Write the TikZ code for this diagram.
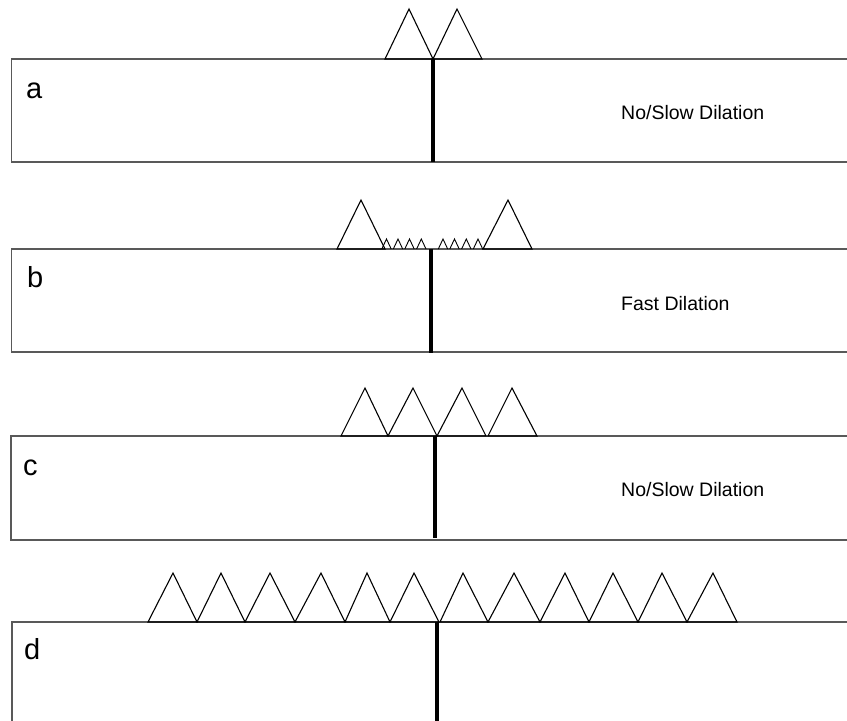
\documentclass[tikz,border=0pt]{standalone}
\usepackage{fontspec}
\setmainfont{Liberation Sans}
\tikzset{
  slab/.style={draw=black!65, line width=1.3pt},
  tooth/.style={draw=black, line width=1.1pt, line join=miter},
  crack/.style={draw=black, line width=3.4pt},
  panellabel/.style={anchor=base west, inner sep=0pt, font=\fontsize{29}{29}\selectfont},
  ratelabel/.style={anchor=base west, inner sep=0pt, font=\fontsize{19.5}{19.5}\selectfont}
}
\begin{document}
\begin{tikzpicture}[x=1pt, y=-1pt]
        \useasboundingbox (0,0) rectangle (847,721);

        % panel a
        \draw[slab] (847,59) -- (11.5,59) -- (11.5,162) -- (847,162);
        \foreach \l/\m/\r in {385/409/433, 433/457/482}
          \draw[tooth] (\l,59) -- (\m,9) -- (\r,59) -- cycle;
        \draw[crack] (433,59) -- (433,162);
        \node[panellabel] (lblA) at (26,98) {a};
        \node[ratelabel] (rateA) at (621,119) {No/Slow Dilation};

        % panel b
        \draw[slab] (847,249) -- (11.5,249) -- (11.5,352) -- (847,352);
        \foreach \l/\m/\r in {337/361/385, 483/508/532}
          \draw[tooth] (\l,249) -- (\m,200) -- (\r,249) -- cycle;
        \foreach \m in {386.5, 398, 409.5, 421.3, 443, 454.5, 466.3, 478}
          \draw[tooth, line width=0.9pt] (\m-4.7,249) -- (\m,239) -- (\m+4.7,249);
        \draw[crack] (431,249) -- (431,353);
        \node[panellabel] (lblB) at (27,287) {b};
        \node[ratelabel] (rateB) at (621,310) {Fast Dilation};

        % panel c
        \draw[slab] (847,436) -- (11,436) -- (11,540) -- (847,540);
        \foreach \l/\m/\r in {341/365/388, 388/413/437, 437/462/486, 488/512/537}
          \draw[tooth] (\l,436) -- (\m,388) -- (\r,436) -- cycle;
        \draw[crack] (435,436) -- (435,538);
        \node[panellabel] (lblC) at (23,475) {c};
        \node[ratelabel] (rateC) at (621,496) {No/Slow Dilation};

        % panel d
        \draw[slab] (847,622) -- (12,622) -- (12,721);
        \foreach \l/\m/\r in {148/173/197, 197/221/245, 245/270/295, 295/321/345,
                              345/367/390, 390/414/439, 440/463/488, 488/514/540,
                              540/565/589, 589/613/638, 638/662/687, 687/713/737}
          \draw[tooth] (\l,622) -- (\m,573) -- (\r,622) -- cycle;
        \draw[crack] (437,622) -- (437,721);
        \node[panellabel] (lblD) at (24,659) {d};
      \end{tikzpicture}
\end{document}
